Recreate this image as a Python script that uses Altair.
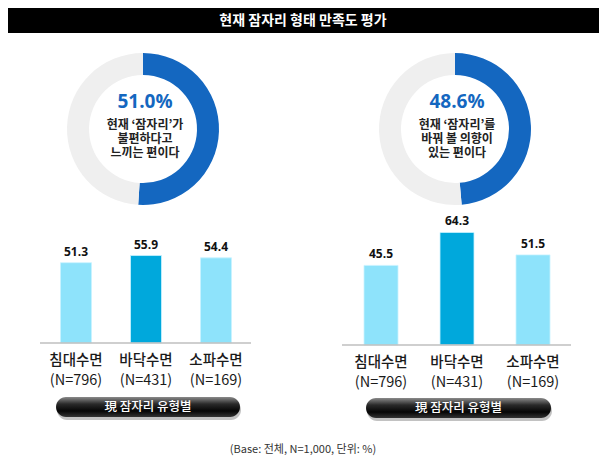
import altair as alt
import pandas as pd

# ---------------- data ----------------
title_text = "현재 잠자리 형태 만족도 평가"
categories = ["침대수면", "바닥수면", "소파수면"]
sample_sizes = ["(N=796)", "(N=431)", "(N=169)"]
uncomfortable_by_type = [51.3, 55.9, 54.4]
change_intent_by_type = [45.5, 64.3, 51.5]
donut_values = [51.0, 48.6]
donut_captions = [
    ["현재 ‘잠자리’가", "불편하다고", "느끼는 편이다"],
    ["현재 ‘잠자리’를", "바꿔 볼 의향이", "있는 편이다"],
]
group_label = "現 잠자리 유형별"
footnote = "(Base: 전체, N=1,000, 단위: %)"

# ---------------- style ----------------
FONT = "Noto Sans CJK KR"
BLUE = "#1467c0"
GREY = "#efefef"
LIGHT = "#8ee3fb"
DARK = "#00a8dc"
W, H = 591, 454

one = pd.DataFrame({"a": [0]})
layers = []

# title bar
layers.append(alt.Chart(one).mark_rect(color="black").encode(
    x=alt.value(-1), x2=alt.value(592), y=alt.value(0), y2=alt.value(25)))
layers.append(alt.Chart(one).mark_text(
    font=FONT, fontSize=14, fontWeight="bold", color="white", baseline="middle"
).encode(x=alt.value(295), y=alt.value(13), text=alt.value(title_text)))


def donut(cx, cy, value, caption_lines):
    df = pd.DataFrame({"part": ["v", "rest"], "value": [value, 100 - value], "k": [0, 1]})
    arc = alt.Chart(df).mark_arc(radius=76, radius2=54).encode(
        theta=alt.Theta("value:Q", stack=True),
        order=alt.Order("k:Q"),
        color=alt.Color("part:N", scale=alt.Scale(domain=["v", "rest"], range=[BLUE, GREY]), legend=None),
        x=alt.value(cx), y=alt.value(cy),
    )
    out = [arc]
    lab = pd.DataFrame({"label": [f"{value:.1f}%"]})
    out.append(alt.Chart(lab).mark_text(
        font="Open Sans", fontSize=19, fontWeight="bold", color=BLUE, baseline="middle"
    ).encode(x=alt.value(cx + 2), y=alt.value(cy - 27), text="label:N"))
    for i, line in enumerate(caption_lines):
        out.append(alt.Chart(one).mark_text(
            font=FONT, fontSize=12, fontWeight="bold", color="#222222", baseline="middle"
        ).encode(x=alt.value(cx + 2), y=alt.value(cy - 4 + 14 * i), text=alt.value(line)))
    return out


layers += donut(135, 121, donut_values[0], donut_captions[0])
layers += donut(447, 121, donut_values[1], donut_captions[1])


def bars(values, x0, x1, bar_w, y0, px_per_unit, line_x0, line_x1, lab_y, pill_x0, pill_x1, pill_y):
    df = pd.DataFrame({"cat": categories, "value": values, "n": sample_sizes})
    x = alt.X("cat:N", sort=categories,
              scale=alt.Scale(domain=categories, range=[x0, x1], paddingInner=0, paddingOuter=0),
              axis=None)
    y = alt.Y("value:Q", scale=alt.Scale(domain=[0, 100], range=[y0, y0 - 100 * px_per_unit]), axis=None)
    col = alt.Color("cat:N", scale=alt.Scale(domain=categories, range=[LIGHT, DARK, LIGHT]), legend=None)
    base = alt.Chart(df)
    out = []
    out.append(base.mark_bar(width=bar_w, stroke="#c9f3ff", strokeWidth=0.8).encode(x=x, y=y, color=col))
    out.append(alt.Chart(one).mark_rule(color="#bfbfbf", strokeWidth=1.5).encode(
        x=alt.value(line_x0), x2=alt.value(line_x1), y=alt.value(y0)))
    out.append(base.mark_text(font="Open Sans", fontSize=12, fontWeight="bold", color="#111111",
                              baseline="bottom", dy=-4).encode(
        x=x, y=y, text=alt.Text("value:Q", format=".1f")))
    out.append(base.mark_text(font=FONT, fontSize=14.5, fontWeight=500, color="#1a1a1a",
                              baseline="middle").encode(
        x=x, y=alt.value(lab_y), text="cat:N"))
    out.append(base.mark_text(font=FONT, fontSize=14.5, color="#1a1a1a",
                              baseline="middle").encode(
        x=x, y=alt.value(lab_y + 20), text="n:N"))
    # pill label
    out.append(alt.Chart(one).mark_rect(cornerRadius=10, color="#9a9a9a", opacity=0.6).encode(
        x=alt.value(pill_x0 + 1), x2=alt.value(pill_x1 + 1), y=alt.value(pill_y + 3), y2=alt.value(pill_y + 23)))
    grad = alt.Gradient(
        gradient="linear",
        stops=[alt.GradientStop(color="#8a8a8a", offset=0),
               alt.GradientStop(color="#2a2a2a", offset=0.35),
               alt.GradientStop(color="#050505", offset=0.7),
               alt.GradientStop(color="#333333", offset=1)],
        x1=0, x2=0, y1=0, y2=1)
    out.append(alt.Chart(one).mark_rect(cornerRadius=10, color=grad).encode(
        x=alt.value(pill_x0), x2=alt.value(pill_x1), y=alt.value(pill_y), y2=alt.value(pill_y + 20)))
    out.append(alt.Chart(one).mark_text(font=FONT, fontSize=12.5, fontWeight=500, color="white",
                                        baseline="middle").encode(
        x=alt.value((pill_x0 + pill_x1) / 2), y=alt.value(pill_y + 10), text=alt.value(group_label)))
    return out


layers += bars(uncomfortable_by_type, 33, 243, 31, 335, 1.565, 32, 243, 353, 48, 232, 389)
layers += bars(change_intent_by_type, 335, 563, 34, 337, 1.75, 334, 563, 355, 358, 543, 390)

layers.append(alt.Chart(one).mark_text(font=FONT, fontSize=11, color="#333333", baseline="middle").encode(
    x=alt.value(295), y=alt.value(442), text=alt.value(footnote)))

chart = alt.layer(*layers).resolve_scale(
    x="independent", y="independent", theta="independent", color="independent"
).properties(width=W, height=H, padding=0, autosize="none").configure_view(stroke=None)

chart.save("out.html", embed_options={"renderer": "svg", "actions": False})
